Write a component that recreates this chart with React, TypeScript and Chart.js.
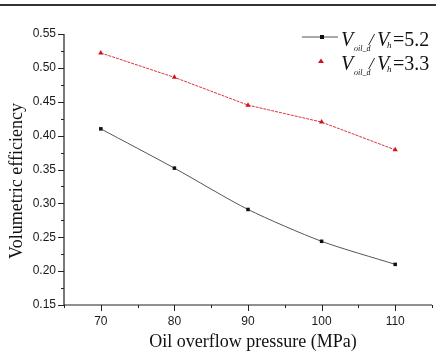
import React, { useEffect, useRef } from "react";
import { Chart, registerables } from "chart.js";

Chart.register(...registerables);

const pressures = [70, 80, 90, 100, 110];
const ratio52 = [0.41, 0.352, 0.291, 0.244, 0.21];
const ratio33 = [0.522, 0.486, 0.445, 0.42, 0.379];
const yTicks = [0.15, 0.2, 0.25, 0.3, 0.35, 0.4, 0.45, 0.5, 0.55];
const xTicks = [70, 80, 90, 100, 110];
const xTitle = "Oil overflow pressure (MPa)";
const yTitle = "Volumetric efficiency";
const legendItems = [
  { ratio: "5.2", color: "#111", marker: "square" },
  { ratio: "3.3", color: "#d0141c", marker: "triangle" },
];

const decor = {
  id: "decor",
  afterDraw(chart: any) {
    const ctx = chart.ctx;
    const xs = chart.scales.x;
    const ys = chart.scales.y;
    const area = chart.chartArea;
    ctx.save();
    // top rule
    ctx.fillStyle = "#333";
    ctx.fillRect(0, 4, chart.width, 2);
    // axes lines
    ctx.strokeStyle = "#222";
    ctx.lineWidth = 1.2;
    ctx.beginPath();
    ctx.moveTo(area.left, ys.getPixelForValue(0.55));
    ctx.lineTo(area.left, area.bottom);
    ctx.lineTo(area.right, area.bottom);
    ctx.stroke();
    ctx.lineWidth = 1;
    // y ticks major/minor
    for (let i = 0; i <= 16; i++) {
      const v = 0.15 + i * 0.025;
      const y = Math.round(ys.getPixelForValue(v)) + 0.5;
      const major = i % 2 === 0;
      ctx.beginPath();
      ctx.moveTo(area.left, y);
      ctx.lineTo(area.left - (major ? 6 : 3), y);
      ctx.stroke();
    }
    for (let v = 65; v <= 115; v += 5) {
      const x = Math.round(xs.getPixelForValue(v)) + 0.5;
      const major = v % 10 === 0;
      ctx.beginPath();
      ctx.moveTo(x, area.bottom);
      ctx.lineTo(x, area.bottom + (major ? 6 : 3));
      ctx.stroke();
    }
    // axis titles
    ctx.fillStyle = "#111";
    ctx.font = "18px 'Liberation Serif'";
    ctx.textAlign = "center";
    ctx.textBaseline = "middle";
    ctx.fillText(xTitle, 253, 342);
    ctx.save();
    ctx.translate(17, 181);
    ctx.rotate(-Math.PI / 2);
    ctx.fillText(yTitle, 0, 0);
    ctx.restore();
    // legend
    const drawEntry = (item: any, yc: number) => {
      if (item.marker === "square") {
        ctx.strokeStyle = "#555";
        ctx.lineWidth = 1;
        ctx.beginPath();
        ctx.moveTo(302, yc);
        ctx.lineTo(338, yc);
        ctx.stroke();
        ctx.fillStyle = item.color;
        ctx.fillRect(320, yc - 2, 4, 4);
      } else {
        ctx.fillStyle = item.color;
        ctx.beginPath();
        ctx.moveTo(321, yc - 2.5);
        ctx.lineTo(324, yc + 2);
        ctx.lineTo(318, yc + 2);
        ctx.closePath();
        ctx.fill();
      }
      ctx.fillStyle = "#111";
      ctx.textBaseline = "alphabetic";
      ctx.textAlign = "left";
      const base = yc + 9;
      ctx.font = "italic 20px 'Liberation Serif'";
      ctx.fillText("V", 341, base);
      ctx.font = "italic 8px 'Liberation Serif'";
      ctx.fillText("oil_d", 354, base + 5);
      ctx.font = "italic 17px 'Liberation Serif'";
      ctx.fillText("/", 369, base - 1);
      ctx.font = "italic 20px 'Liberation Serif'";
      ctx.fillText("V", 377, base);
      ctx.font = "italic 9px 'Liberation Serif'";
      ctx.fillText("h", 387, base + 2);
      ctx.font = "20px 'Liberation Serif'";
      ctx.fillText("=" + item.ratio, 393, base);
    };
    drawEntry(legendItems[0], 37);
    drawEntry(legendItems[1], 61);
    ctx.restore();
  },
};

export default function App() {
  const ref = useRef<HTMLCanvasElement>(null);
  useEffect(() => {
    const chart = new Chart(ref.current!, {
      type: "line",
      data: {
        datasets: [
          {
            label: "5.2",
            data: pressures.map((p, i) => ({ x: p, y: ratio52[i] })),
            borderColor: "#555",
            borderWidth: 1,
            backgroundColor: "#111",
            pointStyle: "rect",
            pointRadius: 2.5,
            pointBorderWidth: 0,
            pointBackgroundColor: "#111",
            tension: 0.25,
          },
          {
            label: "3.3",
            data: pressures.map((p, i) => ({ x: p, y: ratio33[i] })),
            borderColor: "#e0303a",
            borderWidth: 1,
            borderDash: [3, 1],
            pointStyle: "triangle",
            pointRadius: 3,
            pointBorderWidth: 0,
            pointBackgroundColor: "#d0141c",
            tension: 0,
          },
        ],
      },
      options: {
        responsive: false,
        animation: false,
        layout: { padding: { top: 34, right: 4, left: 0, bottom: 0 } },
        plugins: { legend: { display: false }, tooltip: { enabled: false } },
        scales: {
          x: {
            type: "linear",
            min: 65,
            max: 115,
            afterBuildTicks: (s: any) => {
              s.ticks = xTicks.map((v) => ({ value: v }));
            },
            afterFit: (s: any) => {
              s.height = 48;
            },
            grid: { display: false, drawTicks: false },
            border: { display: false },
            ticks: {
              padding: 9,
              color: "#1a1a1a",
              font: { family: "'Liberation Sans'", size: 12 },
              callback: (v: any) => String(v),
            },
          },
          y: {
            type: "linear",
            min: 0.15,
            max: 0.55,
            afterBuildTicks: (s: any) => {
              s.ticks = yTicks.map((v) => ({ value: v }));
            },
            afterFit: (s: any) => {
              s.width = 64;
            },
            grid: { display: false, drawTicks: false },
            border: { display: false },
            ticks: {
              padding: 8,
              color: "#1a1a1a",
              font: { family: "'Liberation Sans'", size: 12 },
              callback: (v: any) => Number(v).toFixed(2),
            },
          },
        },
      },
      plugins: [decor],
    });
    return () => chart.destroy();
  }, []);
  return (
    <div style={{ position: "fixed", left: 0, top: 0, width: 436, height: 353, background: "#fff" }}>
      <canvas ref={ref} width={436} height={353} style={{ display: "block" }} />
    </div>
  );
}
